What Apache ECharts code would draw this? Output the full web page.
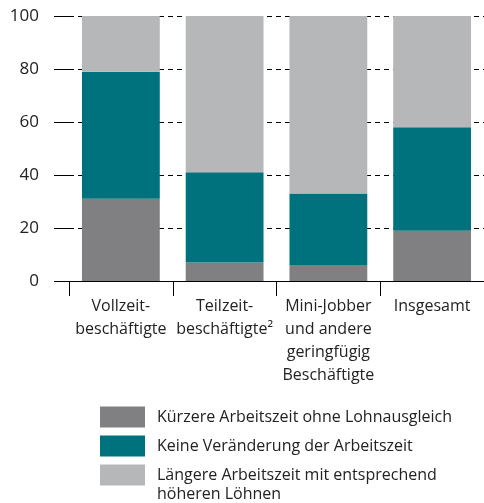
<!DOCTYPE html>
<html><head><meta charset="utf-8">
<script src="https://cdn.jsdelivr.net/npm/echarts@6/dist/echarts.min.js"></script>
<style>html,body{margin:0;padding:0;background:#fff}#c{width:484px;height:503px}</style>
</head><body><div id="c"></div>
<script>
const categories = ["Vollzeit-\nbeschäftigte", "Teilzeit-\nbeschäftigte²", "Mini-Jobber\nund andere\ngeringfügig\nBeschäftigte", "Insgesamt"];
const seriesNames = ["Kürzere Arbeitszeit ohne Lohnausgleich", "Keine Veränderung der Arbeitszeit", "Längere Arbeitszeit mit entsprechend höheren Löhnen"];
const legendLine1 = "Längere Arbeitszeit mit entsprechend";
const legendLine2 = "höheren Löhnen";
const kuerzer = [31, 7, 6, 19];
const keine = [48, 34, 27, 39];
const laenger = [21, 59, 67, 42];
const yTicks = [0, 20, 40, 60, 80, 100];
const colors = ["#808083", "#00727e", "#b6b7b9"];
const FONT = "Open Sans";

const chart = echarts.init(document.getElementById('c'), null, {renderer: 'canvas'});
const mk = (name, data, color) => ({
  name, type: 'bar', stack: 'a', data, barWidth: '75%',
  itemStyle: {color}, emphasis: {disabled: true}
});
chart.setOption({
  animation: false,
  textStyle: {fontFamily: FONT},
  grid: {left: 69, right: 0, top: 16, bottom: 222, containLabel: false},
  xAxis: {
    type: 'category', data: categories,
    axisLine: {lineStyle: {color: '#000', width: 1}},
    axisTick: {show: true, length: 15, lineStyle: {color: '#000'}},
    axisLabel: {color: '#222', fontSize: 16, lineHeight: 23, margin: 14, fontFamily: FONT, interval: 0}
  },
  yAxis: {
    type: 'value', min: yTicks[0], max: yTicks[yTicks.length - 1], interval: 20,
    axisLine: {show: false},
    axisTick: {show: true, length: 15, lineStyle: {color: '#000'}},
    axisLabel: {color: '#222', fontSize: 17, margin: 30, fontFamily: FONT},
    splitLine: {show: true, lineStyle: {color: '#000', type: [5, 4], width: 1}}
  },
  legend: {
    orient: 'vertical', left: 100, top: 406, padding: 0, height: 300,
    itemWidth: 45, itemHeight: 21, itemGap: 7,
    icon: 'rect',
    textStyle: {fontSize: 16, color: '#222', fontFamily: FONT, lineHeight: 22, padding: [0, 0, 0, 7]},
    data: seriesNames,
    formatter: n => n === seriesNames[2] ? legendLine1 : n,
    selectedMode: false
  },
  graphic: [{
    type: 'text', x: 157, y: 494.5, silent: true,
    style: {text: legendLine2, fontSize: 16, fontFamily: FONT, fill: '#222', verticalAlign: 'middle', align: 'left', lineHeight: 22}
  }],
  series: [
    mk(seriesNames[0], kuerzer, colors[0]),
    mk(seriesNames[1], keine, colors[1]),
    mk(seriesNames[2], laenger, colors[2])
  ]
});
</script></body></html>
